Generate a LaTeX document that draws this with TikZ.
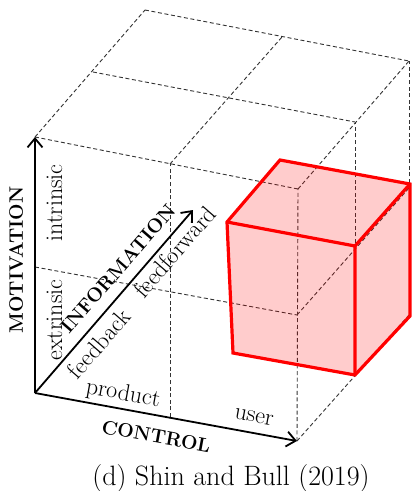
\documentclass[tikz,border=0pt]{standalone}
\usetikzlibrary{arrows.meta}
\begin{document}
\begin{tikzpicture}[x=1pt,y=-1pt,
  grid/.style={draw=black!80, line width=0.9pt, dash pattern=on 4pt off 2.6pt},
  axis/.style={draw=black, line width=1.8pt, -{Straight Barb[length=9pt,width=15pt]}},
  lbl/.style={font=\fontsize{24}{28}\selectfont, inner sep=0pt, anchor=base},
  ttl/.style={font=\fontsize{19.5}{23}\selectfont\bfseries, inner sep=0pt, anchor=base},
  redface/.style={fill=red, fill opacity=0.2, draw=none},
  rededge/.style={draw=red, line width=3.2pt, line join=miter}]
\useasboundingbox (0,0) rectangle (412,491);
% grid points P(c,d,m)
\coordinate (O)   at (35,393);
\coordinate (c5)  at (170,417);
\coordinate (c1)  at (297,441);
\coordinate (m5)  at (35,267);
\coordinate (c1m5) at (297,315);
\coordinate (c1d5) at (355,375);
\coordinate (c1d1) at (409,315);
\coordinate (c1d5m5) at (355,248);
\coordinate (c1d1m5) at (409,188);
\coordinate (t00) at (35,137);
\coordinate (t50) at (170,164);
\coordinate (t10) at (298,189);
\coordinate (t05) at (93,72);
\coordinate (t55) at (230,98);
\coordinate (t15) at (355,122);
\coordinate (t01) at (145,10);
\coordinate (t51) at (282,37);
\coordinate (t11) at (409,61);
\coordinate (itip) at (193,210);
% dashed grid
\draw[grid] (t00) -- (t10);
\draw[grid] (t05) -- (t15);
\draw[grid] (t01) -- (t11);
\draw[grid] (t00) -- (t01);
\draw[grid] (t50) -- (t51);
\draw[grid] (t10) -- (t11);
\draw[grid] (c5) -- (t50);
\draw[grid] (c1) -- (t10);
\draw[grid] (m5) -- (c1m5);
\draw[grid] (c1d5) -- (t15);
\draw[grid] (c1d1) -- (t11);
\draw[grid] (c1) -- (c1d1);
\draw[grid] (c1m5) -- (c1d1m5);
% red cube
\coordinate (FTL) at (227,222);
\coordinate (BTL) at (280,160);
\coordinate (BTR) at (410,184);
\coordinate (FTR) at (355,246);
\coordinate (FBL) at (233,353);
\coordinate (FBR) at (355,375);
\coordinate (BBR) at (410,316);
\fill[redface] (FTL) -- (BTL) -- (BTR) -- (BBR) -- (FBR) -- (FBL) -- cycle;
\draw[rededge] (FTL) -- (BTL) -- (BTR) -- (BBR) -- (FBR) -- (FBL) -- cycle;
\draw[rededge] (FTL) -- (FTR) -- (FBR);
\draw[rededge] (FTR) -- (BTR);
% axes
\draw[axis] (O) -- (t00);
\draw[axis] (O) -- (c1);
\draw[axis] (O) -- (itip);
% labels
\node[ttl, rotate=90] (mot) at (23,260) {MOTIVATION};
\node[lbl, rotate=90] (intr) at (62,203) {intrinsic};
\node[lbl, rotate=90] (extr) at (62,320) {extrinsic};
\node[ttl, rotate=49] (info) at (123,273) {INFORMATION};
\node[lbl, rotate=49] (fb) at (105,349) {feedback};
\node[lbl, rotate=49] (ff) at (181,257) {feedforward};
\node[lbl, rotate=-10.4] (prod) at (122,400) {product};
\node[lbl, rotate=-10.4] (user) at (253,422) {user};
\node[ttl, rotate=-10.4] (ctrl) at (155,443) {CONTROL};
\node[lbl, font=\fontsize{28}{32}\selectfont] (cap) at (231,485) {(d) Shin and Bull (2019)};
\end{tikzpicture}
\end{document}
